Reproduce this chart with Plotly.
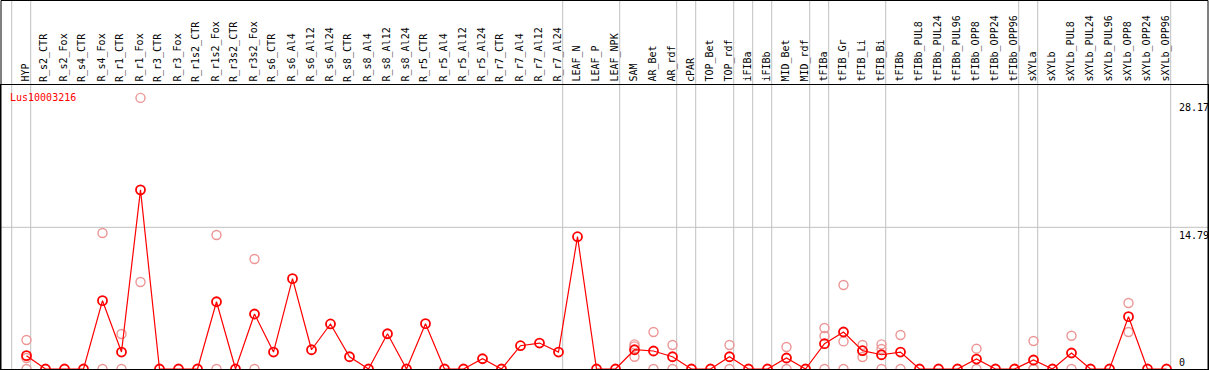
import plotly.graph_objects as go

gene_name = "Lus10003216"

categories = [
    "HYP", "R_s2_CTR", "R_s2_Fox", "R_s4_CTR", "R_s4_Fox", "R_r1_CTR", "R_r1_Fox", "R_r3_CTR", "R_r3_Fox", "R_r1s2_CTR",
    "R_r1s2_Fox", "R_r3s2_CTR", "R_r3s2_Fox", "R_s6_CTR", "R_s6_Al4", "R_s6_Al12", "R_s6_Al24", "R_s8_CTR", "R_s8_Al4", "R_s8_Al12",
    "R_s8_Al24", "R_r5_CTR", "R_r5_Al4", "R_r5_Al12", "R_r5_Al24", "R_r7_CTR", "R_r7_Al4", "R_r7_Al12", "R_r7_Al24", "LEAF_N",
    "LEAF_P", "LEAF_NPK", "SAM", "AR_Bet", "AR_rdf", "cPAR", "TOP_Bet", "TOP_rdf", "iFIBa", "iFIBb",
    "MID_Bet", "MID_rdf", "tFIBa", "tFIB_Gr", "tFIB_Li", "tFIB_Bi", "tFIBb", "tFIBb_PUL8", "tFIBb_PUL24", "tFIBb_PUL96",
    "tFIBb_OPP8", "tFIBb_OPP24", "tFIBb_OPP96", "sXYLa", "sXYLb", "sXYLb_PUL8", "sXYLb_PUL24", "sXYLb_PUL96", "sXYLb_OPP8", "sXYLb_OPP24",
    "sXYLb_OPP96",
]

mean_values = [
    1.39, 0, 0, 0, 7.13, 1.77, 18.7, 0, 0, 0,
    7.02, 0, 5.74, 1.77, 9.43, 2.01, 4.70, 1.28, 0, 3.68,
    0, 4.73, 0, 0, 1.07, 0, 2.43, 2.71, 1.77, 13.81,
    0, 0, 2.01, 1.88, 1.28, 0, 0, 1.28, 0, 0,
    1.15, 0, 2.64, 3.86, 1.91, 1.49, 1.77, 0, 0, 0,
    1.04, 0, 0, 0.94, 0, 1.67, 0, 0, 5.46, 0,
    0,
]

replicates = [
    [3.03, 1.15, 0], [], [], [], [14.2, 0], [3.65, 0], [28.3, 9.08], [], [], [],
    [13.99, 0], [], [11.48, 0], [], [], [], [], [], [], [],
    [], [], [], [], [], [], [], [], [], [],
    [], [], [2.57, 2.36, 1.28], [3.86, 0], [2.5, 0], [], [], [2.5, 0], [], [],
    [2.3, 0], [], [4.28, 3.44, 0], [8.77, 2.88, 0], [2.5, 1.9, 1.25], [2.57, 2.09, 0], [3.55, 0], [], [], [],
    [2.12, 0], [], [], [2.92, 0, 0], [], [3.47, 0], [], [], [6.89, 3.86], [],
    [],
]

# index of the last category in each group (group separators)
group_ends = [-1, 0, 28, 31, 34, 35, 37, 38, 39, 41, 42, 45, 52, 53, 60]

y_max_label = 28.17
y_mid_label = 14.79
y_labels = [y_max_label, y_mid_label, 0]

# ---------------- figure ----------------
W, H = 1209, 370
ML, MR, MT, MB = 1, 1, 85, 1
plot_w = W - ML - MR
plot_h = H - MT - MB
px_per_x = 19.0
px_per_y = 9.58
x_min = -25.5 / px_per_x
x_max = x_min + plot_w / px_per_x
y_top = plot_h / px_per_y

xs = list(range(len(categories)))

rep_x, rep_y = [], []
for i, vals in enumerate(replicates):
    for v in vals:
        rep_x.append(i)
        rep_y.append(v)

fig = go.Figure()

fig.add_trace(go.Scatter(
    x=rep_x, y=rep_y, mode="markers",
    marker=dict(symbol="circle-open", size=9, color="rgb(236,150,150)", line=dict(width=1.4)),
    hoverinfo="skip", showlegend=False,
))
fig.add_trace(go.Scatter(
    x=xs, y=mean_values, mode="lines+markers",
    line=dict(color="#ff0000", width=1.2),
    marker=dict(symbol="circle-open", size=9, color="#ff0000", line=dict(width=1.8)),
    hoverinfo="skip", showlegend=False,
))

top_paper = 1 + (MT - 0.5) / plot_h
shapes = []
for g in group_ends:
    gx = g + 4.2 / px_per_x
    shapes.append(dict(type="line", xref="x", yref="paper", x0=gx, x1=gx, y0=0, y1=top_paper,
                       line=dict(color="#c0c0c0", width=1), layer="below"))
shapes.append(dict(type="line", xref="paper", yref="y", x0=0, x1=1, y0=y_mid_label, y1=y_mid_label,
                   line=dict(color="#c0c0c0", width=1), layer="below"))
# outer border of the label strip
shapes.append(dict(type="line", xref="paper", yref="paper", x0=0, x1=1, y0=top_paper, y1=top_paper,
                   line=dict(color="black", width=1)))
shapes.append(dict(type="line", xref="paper", yref="paper", x0=0, x1=0, y0=0, y1=top_paper,
                   line=dict(color="black", width=1)))
shapes.append(dict(type="line", xref="paper", yref="paper", x0=1, x1=1, y0=0, y1=top_paper,
                   line=dict(color="black", width=1)))

mono = "DejaVu Sans Mono"
annotations = []
for i, name in enumerate(categories):
    annotations.append(dict(
        x=i, xref="x", y=1 + 1.0 / plot_h, yref="paper", text=name, showarrow=False,
        textangle=-90, xanchor="center", yanchor="bottom", xshift=-1,
        font=dict(family=mono, size=10, color="black"),
    ))

annotations.append(dict(
    x=(7.5 - ML) / plot_w, xref="paper", y=(H - MB - 97) / plot_h, yref="paper",
    text=gene_name, showarrow=False, xanchor="left", yanchor="middle",
    font=dict(family=mono, size=10, color="#ff0000"),
))

label_x = (1177 - ML) / plot_w
for v in y_labels:
    if v == 0:
        annotations.append(dict(x=label_x, xref="paper", y=v, yref="y", text=str(v), showarrow=False,
                                xanchor="left", yanchor="bottom", yshift=-1,
                                font=dict(family=mono, size=10, color="black")))
    else:
        annotations.append(dict(x=label_x, xref="paper", y=v, yref="y", text=f"{v:.2f}", showarrow=False,
                                xanchor="left", yanchor="top", yshift=-1,
                                font=dict(family=mono, size=10, color="black")))

fig.update_layout(
    width=W, height=H,
    margin=dict(l=ML, r=MR, t=MT, b=MB, pad=0),
    paper_bgcolor="white", plot_bgcolor="white",
    shapes=shapes, annotations=annotations,
    xaxis=dict(range=[x_min, x_max], showgrid=False, zeroline=False, showticklabels=False,
               showline=True, mirror=True, linecolor="black", linewidth=1, ticks=""),
    yaxis=dict(range=[0, y_top], showgrid=False, zeroline=False, showticklabels=False,
               showline=True, mirror=True, linecolor="black", linewidth=1, ticks=""),
    hovermode=False,
)

fig.write_html(
    "out.html",
    config={"displayModeBar": False, "responsive": False},
    post_script="document.body.style.margin='0';document.body.style.overflow='hidden';",
)
